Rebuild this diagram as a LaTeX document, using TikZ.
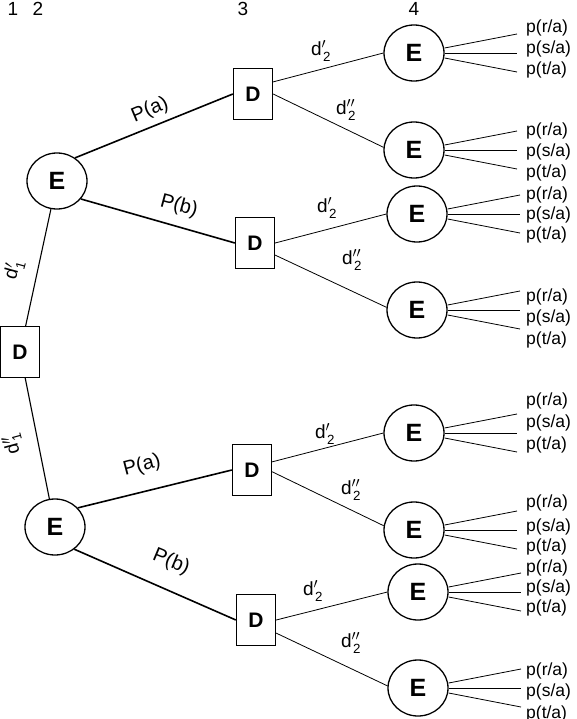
\documentclass[tikz,border=0pt]{standalone}
\usepackage{fontspec}
\usepackage{amsmath}
\setmainfont{Liberation Sans}
\usetikzlibrary{shapes}

\newcommand{\dpr}[1]{d$'_{\hspace{1.5pt}\text{#1}}$}
\newcommand{\dpp}[1]{d$''_{\hspace{1.5pt}\text{#1}}$}

\begin{document}
\begin{tikzpicture}[x=1pt, y=-1pt]
	\tikzstyle{dbox}=[draw, rectangle, line width=1.3pt, minimum width=39pt, minimum height=51pt, inner sep=0pt, font=\fontsize{21}{21}\selectfont\bfseries]
	\tikzstyle{ecirc}=[draw, ellipse, line width=1.3pt, minimum width=60pt, minimum height=56pt, inner sep=0pt, font=\fontsize{25}{25}\selectfont\bfseries]
	\tikzstyle{root_e}=[line width=1.1pt]
	\tikzstyle{prob_e}=[line width=1.6pt]
	\tikzstyle{dec_e}=[line width=0.8pt]
	\tikzstyle{fan}=[line width=0.8pt]
	\tikzstyle{lab}=[font=\fontsize{19}{19}\selectfont, inner sep=1pt]
	\tikzstyle{plab}=[font=\fontsize{20}{20}\selectfont, inner sep=1pt]
	\tikzstyle{prob}=[font=\fontsize{17.5}{17.5}\selectfont, anchor=west, inner sep=0pt]

	\useasboundingbox (0,0) rectangle (576,719);

	% stage numbers
	\node[lab] (s1) at (13,9) {1};
	\node[lab] (s2) at (38,9) {2};
	\node[lab] (s3) at (243,9) {3};
	\node[lab] (s4) at (414,9) {4};

	\node[dbox] (root) at (20,352) {D};
	\node[ecirc] (ea) at (57,181) {E};
	\node[ecirc] (eb) at (55,527) {E};

	\node[dbox] (da) at (253,94) {D};
	\node[dbox] (db) at (255,243) {D};
	\node[dbox] (dc) at (252,470) {D};
	\node[dbox] (dd) at (256,620) {D};

	\node[ecirc] (e1) at (414,53) {E};
	\node[ecirc] (e2) at (414,150) {E};
	\node[ecirc] (e3) at (417,214) {E};
	\node[ecirc] (e4) at (417,310) {E};
	\node[ecirc] (e5) at (414,433) {E};
	\node[ecirc] (e6) at (414,530) {E};
	\node[ecirc] (e7) at (418,592) {E};
	\node[ecirc] (e8) at (418,688) {E};

	% first decision
	\draw[root_e] (root) -- (ea);
	\draw[root_e] (root) -- (eb);
	\node[lab, rotate=74.7] (d1a) at (14,270) {\dpr{1}};
	\node[lab, rotate=105.3] (d1b) at (13,444) {\dpp{1}};

	% chance
	\draw[prob_e] (ea.52) -- (da.west);
	\draw[prob_e] (ea.-37) -- (db.west);
	\draw[prob_e] (eb.40) -- (dc.west);
	\draw[prob_e] (eb.-49) -- (dd.west);
	\node[plab, rotate=22.7] (pa1) at (150,110) {P(a)};
	\node[plab, rotate=-15.2] (pb1) at (179,206) {P(b)};
	\node[plab, rotate=14.6] (pa2) at (142,466) {P(a)};
	\node[plab, rotate=-22.8] (pb2) at (171,562) {P(b)};

	% second decision
	\draw[dec_e] (da.31) -- (e1.west);
	\draw[dec_e] (da.east) -- (e2.175);
	\draw[dec_e] (db.east) -- (e3.west);
	\draw[dec_e] (db.-31) -- (e4.175);
	\draw[dec_e] (dc.22) -- (e5.west);
	\draw[dec_e] (dc.-5) -- (e6.172);
	\draw[dec_e] (dd.east) -- (e7.west);
	\draw[dec_e] (dd.-33) -- (e8.176);
	\node[lab] (da1) at (321,51) {\dpr{2}};
	\node[lab] (da2) at (346,110) {\dpp{2}};
	\node[lab] (db1) at (327,208) {\dpr{2}};
	\node[lab] (db2) at (352,260) {\dpp{2}};
	\node[lab] (dc1) at (325,434) {\dpr{2}};
	\node[lab] (dc2) at (351,490) {\dpp{2}};
	\node[lab] (dd1) at (313,591) {\dpr{2}};
	\node[lab] (dd2) at (351,643) {\dpp{2}};

	% outcomes
	\foreach \e/\ry/\sy/\ty in {e1/28/49/70, e2/131/152/173, e3/195/215/235, e4/297/318/340, e5/401/423/445, e6/503/527/547, e7/568/588/608, e8/671/692/714}{
		\node[prob] (\e-r) at (526,\ry) {p(r/a)};
		\node[prob] (\e-s) at (526,\sy) {p(s/a)};
		\node[prob] (\e-t) at (526,\ty) {p(t/a)};
		\coordinate (\e-re) at ([shift={(103,-19)}]\e.center);
		\coordinate (\e-se) at ([shift={(103,0)}]\e.center);
		\coordinate (\e-te) at ([shift={(103,19)}]\e.center);
		\draw[fan] ([yshift=5pt]\e.east) -- (\e-re);
		\draw[fan] (\e.east) -- (\e-se);
		\draw[fan] ([yshift=-5pt]\e.east) -- (\e-te);
	}
\end{tikzpicture}
\end{document}
